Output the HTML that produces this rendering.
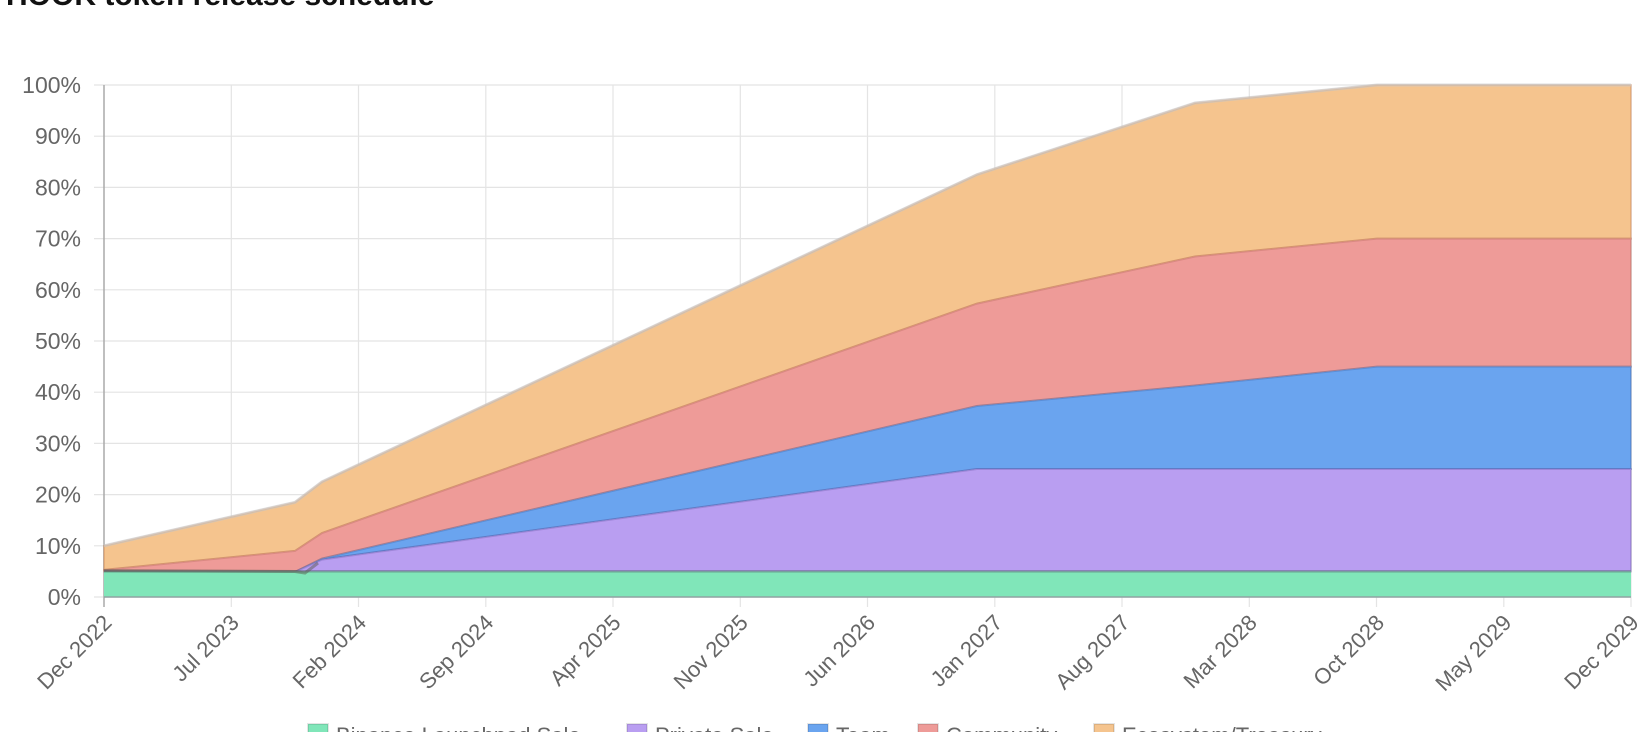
<!DOCTYPE html>
<html><head><meta charset="utf-8"><style>
html,body{margin:0;padding:0;background:#fff;width:1644px;height:732px;overflow:hidden}
svg{display:block}
text{font-family:"Liberation Sans",Arial,sans-serif;fill:#666}
</style></head><body>
<svg width="1644" height="732" viewBox="0 0 1644 732" xmlns="http://www.w3.org/2000/svg">
<text x="6" y="5" style="font-size:30px;font-weight:bold;fill:#111">HOOK token release schedule</text>
<g stroke="#e4e4e4" stroke-width="1.2">
<line x1="94" y1="85" x2="1631" y2="85"/><line x1="94" y1="136.2" x2="1631" y2="136.2"/><line x1="94" y1="187.4" x2="1631" y2="187.4"/><line x1="94" y1="238.6" x2="1631" y2="238.6"/><line x1="94" y1="289.8" x2="1631" y2="289.8"/><line x1="94" y1="341" x2="1631" y2="341"/><line x1="94" y1="392.2" x2="1631" y2="392.2"/><line x1="94" y1="443.4" x2="1631" y2="443.4"/><line x1="94" y1="494.6" x2="1631" y2="494.6"/><line x1="94" y1="545.8" x2="1631" y2="545.8"/><line x1="94" y1="597" x2="1631" y2="597"/>
<line x1="231.3" y1="85" x2="231.3" y2="607"/><line x1="358.5" y1="85" x2="358.5" y2="607"/><line x1="485.8" y1="85" x2="485.8" y2="607"/><line x1="613" y1="85" x2="613" y2="607"/><line x1="740.3" y1="85" x2="740.3" y2="607"/><line x1="867.5" y1="85" x2="867.5" y2="607"/><line x1="994.8" y1="85" x2="994.8" y2="607"/><line x1="1122" y1="85" x2="1122" y2="607"/><line x1="1249.3" y1="85" x2="1249.3" y2="607"/><line x1="1376.5" y1="85" x2="1376.5" y2="607"/><line x1="1503.8" y1="85" x2="1503.8" y2="607"/><line x1="1631" y1="85" x2="1631" y2="607"/>
</g>
<line x1="104" y1="85" x2="104" y2="607" stroke="#aaa" stroke-width="1.5"/>
<path d="M104,545.8 L295,502.3 L322,481.8 L977,174.6 L1195,103 L1377,85 L1631,85 L1631,238.6 L1377,238.6 L1195,256.5 L977,303.6 L322,533 L295,550.9 L104,569.9 Z" fill="#f5c48e" stroke="rgba(200,130,80,0.35)" stroke-width="2"/>
<path d="M104,545.8 L295,502.3 L322,481.8 L977,174.6 L1195,103 L1377,85 L1631,85" fill="none" stroke="rgba(200,200,200,0.6)" stroke-width="3"/>
<path d="M104,569.9 L295,550.9 L322,533 L977,303.6 L1195,256.5 L1377,238.6 L1631,238.6 L1631,366.6 L1377,366.6 L1195,385.5 L977,406 L322,558.6 L295,571.9 L104,571.4 Z" fill="#ee9b98" stroke="rgba(180,100,90,0.35)" stroke-width="2"/>
<path d="M104,571.4 L295,571.9 L322,558.6 L977,406 L1195,385.5 L1377,366.6 L1631,366.6 L1631,469 L977,469 L322,559.6 L295,571.9 L104,571.4 Z" fill="#6aa4ef" stroke="rgba(60,100,170,0.35)" stroke-width="2"/>
<path d="M104,571.4 L295,571.9 L322,559.6 L977,469 L1631,469 L1631,571.4 L104,571.4 Z" fill="#b99ef1" stroke="rgba(110,90,170,0.35)" stroke-width="2"/>
<path d="M104,571.4 L1631,571.4 L1631,597 L104,597 Z" fill="#80e6b9"/>
<line x1="104" y1="571.4" x2="1631" y2="571.4" stroke="rgba(80,100,100,0.4)" stroke-width="2.5"/>
<path d="M104,570.5 L295,571.5 L305,573 L318,563" fill="none" stroke="rgba(90,90,80,0.5)" stroke-width="3"/>
<line x1="104" y1="597" x2="1631" y2="597" stroke="#8fa3a3" stroke-width="1.5"/>
<g style="font-size:23px" text-anchor="end">
<text x="81" y="93">100%</text><text x="81" y="144.2">90%</text><text x="81" y="195.4">80%</text><text x="81" y="246.6">70%</text><text x="81" y="297.8">60%</text><text x="81" y="349">50%</text><text x="81" y="400.2">40%</text><text x="81" y="451.4">30%</text><text x="81" y="502.6">20%</text><text x="81" y="553.8">10%</text><text x="81" y="605">0%</text>
</g>
<g style="font-size:22px" text-anchor="end">
<text transform="translate(113,624) rotate(-45)">Dec 2022</text>
<text transform="translate(240.3,624) rotate(-45)">Jul 2023</text>
<text transform="translate(367.5,624) rotate(-45)">Feb 2024</text>
<text transform="translate(494.8,624) rotate(-45)">Sep 2024</text>
<text transform="translate(622,624) rotate(-45)">Apr 2025</text>
<text transform="translate(749.3,624) rotate(-45)">Nov 2025</text>
<text transform="translate(876.5,624) rotate(-45)">Jun 2026</text>
<text transform="translate(1003.8,624) rotate(-45)">Jan 2027</text>
<text transform="translate(1131,624) rotate(-45)">Aug 2027</text>
<text transform="translate(1258.3,624) rotate(-45)">Mar 2028</text>
<text transform="translate(1385.5,624) rotate(-45)">Oct 2028</text>
<text transform="translate(1512.8,624) rotate(-45)">May 2029</text>
<text transform="translate(1640,624) rotate(-45)">Dec 2029</text>
</g>
<g style="font-size:22px">
<rect x="308" y="724" width="20" height="20" fill="#80e6b9" stroke="rgba(0,0,0,0.1)" stroke-width="2"/><text x="336" y="743">Binance Launchpad Sale</text>
<rect x="627" y="724" width="20" height="20" fill="#b99ef1" stroke="rgba(0,0,0,0.1)" stroke-width="2"/><text x="655" y="743">Private Sale</text>
<rect x="808" y="724" width="20" height="20" fill="#6aa4ef" stroke="rgba(0,0,0,0.1)" stroke-width="2"/><text x="836" y="743">Team</text>
<rect x="918" y="724" width="20" height="20" fill="#ee9b98" stroke="rgba(0,0,0,0.1)" stroke-width="2"/><text x="946" y="743">Community</text>
<rect x="1094" y="724" width="20" height="20" fill="#f5c48e" stroke="rgba(0,0,0,0.1)" stroke-width="2"/><text x="1122" y="743">Ecosystem/Treasury</text>
</g>
</svg>
</body></html>
